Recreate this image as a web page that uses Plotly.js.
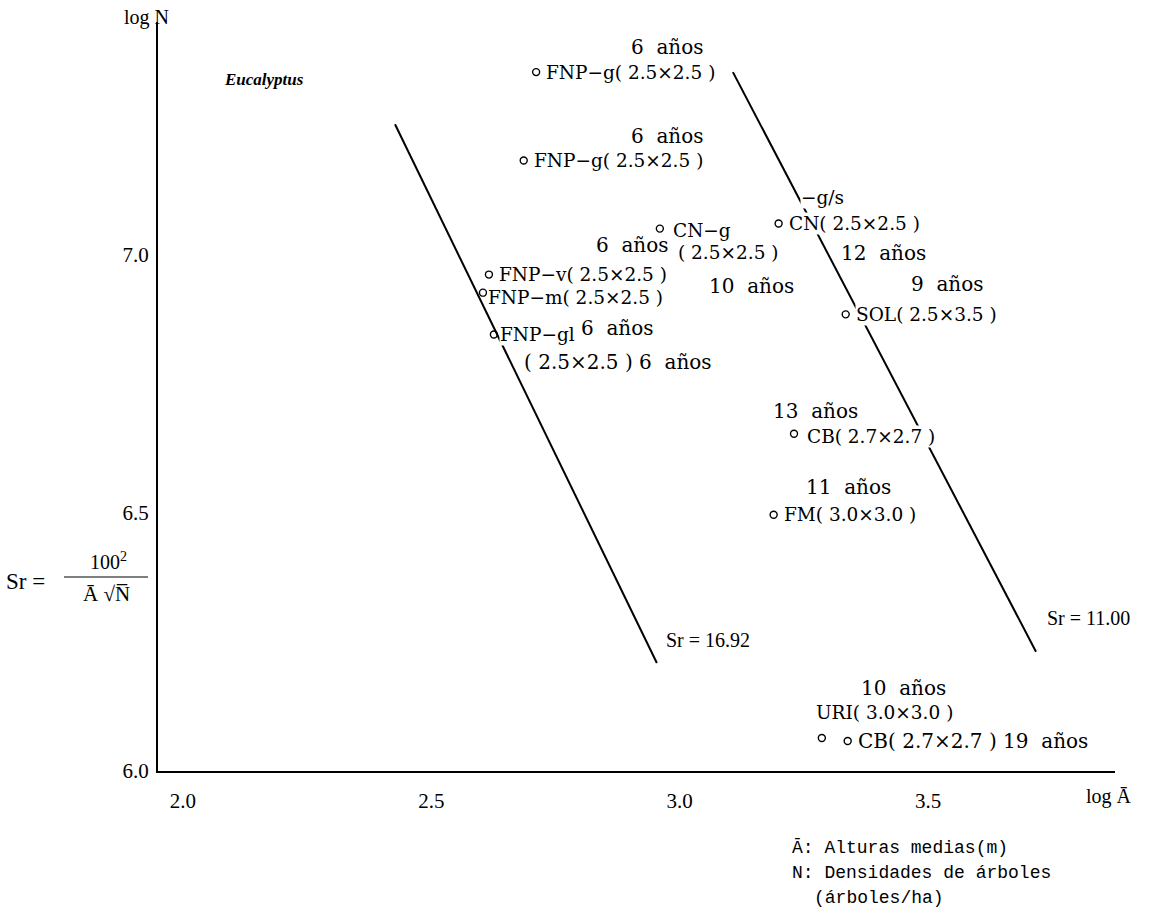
<!DOCTYPE html>
<html>
<head>
<meta charset="utf-8">
<script src="https://cdn.plot.ly/plotly-3.0.1.min.js"></script>
<style>html,body{margin:0;padding:0;background:#fff;}#chart{width:1163px;height:918px;}</style>
</head>
<body>
<div id="chart"></div>
<script>
// ---- data ----
const xTickVals = [2.0, 2.5, 3.0, 3.5];
const xTickText = ['2.0', '2.5', '3.0', '3.5'];
const yTickVals = [6.0, 6.5, 7.0];
const yTickText = ['6.0', '6.5', '7.0'];

const pointNames = ['FNP−g', 'FNP−g', 'CN−g', 'CN', 'FNP−v', 'FNP−m', 'FNP−gl', 'SOL', 'CB', 'FM', 'URI', 'CB'];
const pointLogA = [2.711, 2.686, 2.960, 3.199, 2.616, 2.604, 2.626, 3.334, 3.230, 3.189, 3.286, 3.338];
const pointLogN = [7.353, 7.182, 7.050, 7.060, 6.961, 6.926, 6.845, 6.884, 6.653, 6.496, 6.064, 6.058];

const line1692LogA = [2.427, 2.954];
const line1692LogN = [7.252, 6.209];
const line1100LogA = [3.107, 3.717];
const line1100LogN = [7.353, 6.231];

// ---- label texts (attached to point index, offsets in px) ----
const labels = [
  {i: 0, t: 'FNP−g( 2.5×2.5 )', dx: 9, dy: 0, big: false},
  {i: 0, t: '6  años', dx: 94, dy: -25, big: true},
  {i: 1, t: 'FNP−g( 2.5×2.5 )', dx: 9, dy: 0, big: false},
  {i: 1, t: '6  años', dx: 106, dy: -24, big: true},
  {i: 2, t: 'CN−g', dx: 12, dy: 2, big: false},
  {i: 2, t: '( 2.5×2.5 )', dx: 17, dy: 24, big: false},
  {i: 2, t: '6  años', dx: 10, dy: 16, big: true, right: true},
  {i: 2, t: '10  años', dx: 48, dy: 57, big: true},
  {i: 3, t: '−g/s', dx: 21, dy: -26, big: false},
  {i: 3, t: 'CN( 2.5×2.5 )', dx: 9, dy: 0, big: false},
  {i: 3, t: '12  años', dx: 61, dy: 30, big: true},
  {i: 4, t: 'FNP−v( 2.5×2.5 )', dx: 9, dy: 0, big: false},
  {i: 5, t: 'FNP−m( 2.5×2.5 )', dx: 4, dy: 5, big: false},
  {i: 6, t: 'FNP−gl', dx: 5, dy: 0, big: false},
  {i: 6, t: '6  años', dx: 86, dy: -7, big: true},
  {i: 6, t: '( 2.5×2.5 ) 6  años', dx: 29, dy: 27, big: true},
  {i: 7, t: 'SOL( 2.5×3.5 )', dx: 9, dy: 0, big: false},
  {i: 7, t: '9  años', dx: 64, dy: -30, big: true},
  {i: 8, t: 'CB( 2.7×2.7 )', dx: 12, dy: 3, big: false},
  {i: 8, t: '13  años', dx: -22, dy: -23, big: true},
  {i: 9, t: 'FM( 3.0×3.0 )', dx: 9, dy: 0, big: false},
  {i: 9, t: '11  años', dx: 31, dy: -28, big: true},
  {i: 10, t: 'URI( 3.0×3.0 )', dx: -7, dy: -25, big: false},
  {i: 10, t: '10  años', dx: 38, dy: -50, big: true},
  {i: 11, t: 'CB( 2.7×2.7 ) 19  años', dx: 9, dy: 0, big: true}
];

// ---- layout helpers (pixel -> paper) ----
const M = {l: 158, r: 48, t: 22, b: 147};
const PW = 1163 - M.l - M.r, PH = 918 - M.t - M.b;
const pxX = x => (x - M.l) / PW;
const pxY = y => (M.t + PH - y) / PH;

const serif = 'DejaVu Serif, serif';
const times = 'Liberation Serif, Times New Roman, serif';
const mono = 'Liberation Mono, Courier New, monospace';

const traces = [
  {x: line1692LogA, y: line1692LogN, mode: 'lines', line: {color: '#000', width: 2}, hoverinfo: 'skip'},
  {x: line1100LogA, y: line1100LogN, mode: 'lines', line: {color: '#000', width: 2}, hoverinfo: 'skip'},
  {x: pointLogA, y: pointLogN, text: pointNames, mode: 'markers',
   marker: {symbol: 'circle-open', size: 7, color: '#000', line: {width: 1.4, color: '#000'}}}
];

const annotations = labels.map(L => ({
  x: pointLogA[L.i], y: pointLogN[L.i], xref: 'x', yref: 'y',
  text: L.t, showarrow: false,
  xanchor: L.right ? 'right' : 'left', yanchor: 'middle',
  xshift: L.dx, yshift: -L.dy,
  bgcolor: L.big ? 'rgba(0,0,0,0)' : '#fff', borderpad: 0,
  font: {family: serif, size: L.big ? 20 : 18.5, color: '#000'}
}));

annotations.push(
  {x: 3.735, y: 6.297, xref: 'x', yref: 'y', text: 'Sr = 11.00', showarrow: false, xanchor: 'left', yanchor: 'middle', font: {family: times, size: 20, color: '#000'}},
  {x: 2.968, y: 6.254, xref: 'x', yref: 'y', text: 'Sr = 16.92', showarrow: false, xanchor: 'left', yanchor: 'middle', font: {family: times, size: 20, color: '#000'}},
  {x: pxX(222), y: pxY(79), xref: 'paper', yref: 'paper', text: '<i><b>Eucalyptus</b></i>', showarrow: false, xanchor: 'left', yanchor: 'middle', font: {family: times, size: 17, color: '#000'}},
  {x: pxX(122), y: pxY(18), xref: 'paper', yref: 'paper', text: 'log N', showarrow: false, xanchor: 'left', yanchor: 'middle', font: {family: times, size: 20, color: '#000'}},
  {x: pxX(1084), y: pxY(796), xref: 'paper', yref: 'paper', text: 'log Ā', showarrow: false, xanchor: 'left', yanchor: 'middle', font: {family: times, size: 20, color: '#000'}},
  {x: pxX(4), y: pxY(581), xref: 'paper', yref: 'paper', text: 'Sr =', showarrow: false, xanchor: 'left', yanchor: 'middle', font: {family: times, size: 23, color: '#000'}},
  {x: pxX(108), y: pxY(561), xref: 'paper', yref: 'paper', text: '100<sup>2</sup>', showarrow: false, xanchor: 'center', yanchor: 'middle', font: {family: times, size: 20, color: '#000'}},
  {x: pxX(106), y: pxY(594), xref: 'paper', yref: 'paper', text: 'Ā √N̅', showarrow: false, xanchor: 'center', yanchor: 'middle', font: {family: times, size: 21, color: '#000'}},
  {x: pxX(790), y: pxY(848), xref: 'paper', yref: 'paper', text: 'Ā: Alturas medias(m)', showarrow: false, xanchor: 'left', yanchor: 'middle', font: {family: mono, size: 18, color: '#000'}},
  {x: pxX(790), y: pxY(873), xref: 'paper', yref: 'paper', text: 'N: Densidades de árboles', showarrow: false, xanchor: 'left', yanchor: 'middle', font: {family: mono, size: 18, color: '#000'}},
  {x: pxX(812), y: pxY(898), xref: 'paper', yref: 'paper', text: '(árboles/ha)', showarrow: false, xanchor: 'left', yanchor: 'middle', font: {family: mono, size: 18, color: '#000'}}
);

const shapes = [
  {type: 'line', xref: 'paper', yref: 'paper', x0: pxX(64), x1: pxX(148), y0: pxY(577), y1: pxY(577), line: {color: '#000', width: 1.2}}
];

const layout = {
  width: 1163, height: 918,
  margin: M,
  paper_bgcolor: '#fff', plot_bgcolor: '#fff',
  showlegend: false,
  xaxis: {range: [1.95, 3.876], tickvals: xTickVals, ticktext: xTickText, showgrid: false, zeroline: false,
          showline: true, linecolor: '#000', linewidth: 2, ticks: '', ticklabelstandoff: 10,
          tickfont: {family: times, size: 21, color: '#000'}},
  yaxis: {range: [6.0, 7.45], tickvals: yTickVals, ticktext: yTickText, showgrid: false, zeroline: false,
          showline: true, linecolor: '#000', linewidth: 2, ticks: '', ticklabelstandoff: 3,
          tickfont: {family: times, size: 21, color: '#000'}},
  annotations: annotations,
  shapes: shapes
};

Plotly.newPlot('chart', traces, layout, {staticPlot: true, displayModeBar: false});
</script>
</body>
</html>
